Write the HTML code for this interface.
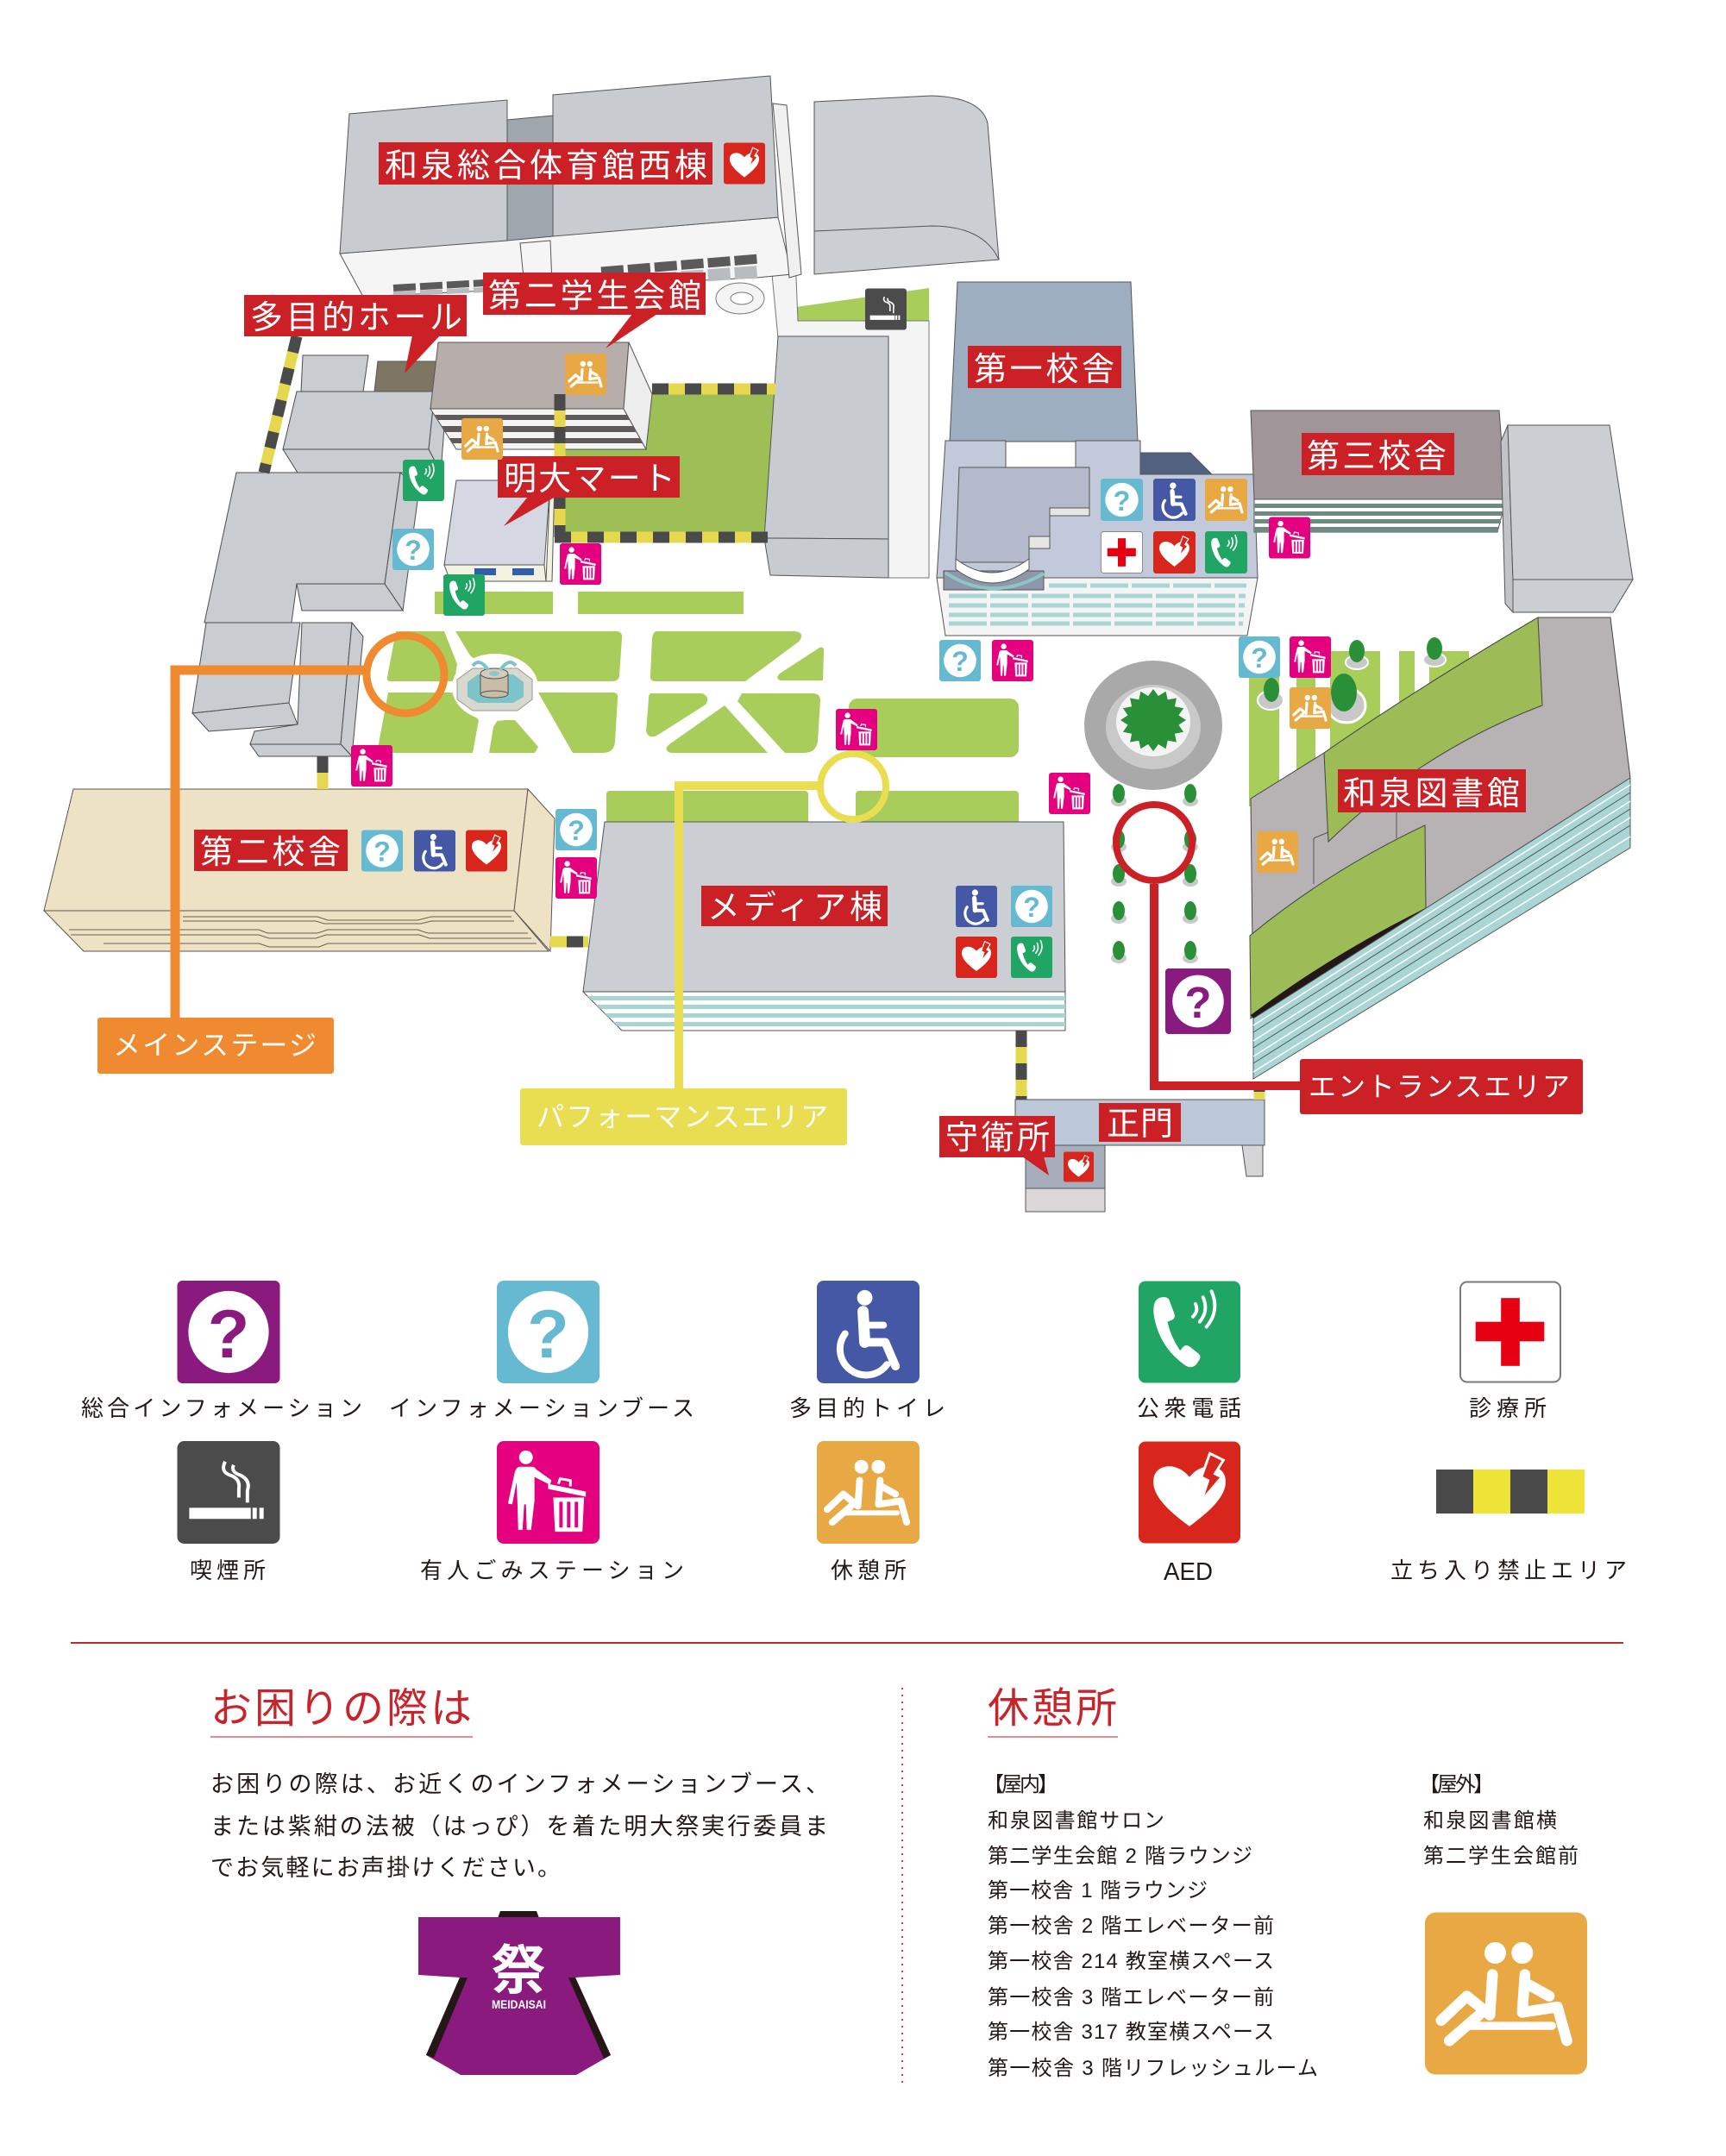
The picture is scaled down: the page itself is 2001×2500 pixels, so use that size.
<!DOCTYPE html>
<html><head><meta charset="utf-8">
<style>
html,body{margin:0;padding:0;background:#fff;}
body{width:2001px;height:2500px;overflow:hidden;}
svg{display:block;}
text{font-family:"Liberation Sans","Noto Sans CJK JP",sans-serif;}
</style></head><body>
<svg width="2001" height="2500" viewBox="0 0 2001 2500" xmlns="http://www.w3.org/2000/svg">
<defs>
 <symbol id="ib" viewBox="0 0 120 120"><rect width="120" height="120" rx="8" fill="#65b9d1"/><ellipse cx="60" cy="60" rx="47" ry="48" fill="#fff"/><text x="60" y="90" font-size="80" font-weight="700" text-anchor="middle" fill="#65b9d1">?</text></symbol>
 <symbol id="ip" viewBox="0 0 120 120"><rect width="120" height="120" rx="6" fill="#8b1a7f"/><ellipse cx="60" cy="60" rx="47" ry="48" fill="#fff"/><text x="60" y="90" font-size="80" font-weight="700" text-anchor="middle" fill="#8b1a7f">?</text></symbol>
 <symbol id="iw" viewBox="0 0 120 120"><rect width="120" height="120" rx="8" fill="#4458a5"/><circle cx="56" cy="20" r="9" fill="#fff"/><g fill="none" stroke="#fff" stroke-linecap="round" stroke-linejoin="round"><path d="M54,36 L56,72" stroke-width="13"/><path d="M56,52 L78,52" stroke-width="8"/><path d="M56,72 L80,72 L92,100" stroke-width="10"/><path d="M33,62 A30,30 0 1 0 82,98" stroke-width="8"/></g></symbol>
 <symbol id="it" viewBox="0 0 120 120"><rect width="120" height="120" rx="8" fill="#21a565"/><path d="M24,20 Q16,24 18,40 Q24,78 56,100 Q64,104 69,97 L72,92 Q74,88 70,85 L60,77 Q56,74 52,78 L49,82 Q38,66 34,48 L39,46 Q44,44 42,38 L36,22 Q33,17 24,20 Z" fill="#fff"/><g fill="none" stroke="#fff" stroke-width="4" stroke-linecap="round"><path d="M64,42 Q71,35 67,27"/><path d="M72,48 Q83,35 76,19"/><path d="M80,54 Q96,35 86,12"/></g></symbol>
 <symbol id="ic" viewBox="0 0 120 120"><rect x="1" y="1" width="118" height="118" rx="8" fill="#fff" stroke="#777" stroke-width="2"/><rect x="49" y="20" width="22" height="80" fill="#e60012"/><rect x="19" y="48" width="81" height="23" fill="#e60012"/></symbol>
 <symbol id="is" viewBox="0 0 120 120"><rect width="120" height="120" rx="8" fill="#4b4b4b"/><rect x="14" y="78" width="72" height="13" fill="#fff"/><rect x="88" y="78" width="5" height="13" fill="#fff"/><rect x="96" y="78" width="5" height="13" fill="#fff"/><g fill="none" stroke="#fff" stroke-width="4"><path d="M56,24 Q50,36 62,40 Q74,44 72,56 L72,66"/><path d="M66,28 Q62,36 74,40 Q86,46 82,58 L82,72"/></g></symbol>
 <symbol id="ig" viewBox="0 0 120 120"><rect width="120" height="120" rx="8" fill="#e4007f"/><circle cx="34" cy="19" r="8" fill="#fff"/><path d="M27,30 L41,30 Q44,30 46,33 L64,46 L62,51 L44,42 L44,70 L40,104 L35,104 L34,74 L32,74 L30,104 L25,104 L24,70 L23,48 L18,74 L13,73 L21,36 Q23,30 27,30 Z" fill="#fff"/><path d="M60,50 L104,59 L104,65 L60,56 Z" fill="#fff"/><path d="M72,50 L74,44 L86,46 L86,53" fill="none" stroke="#fff" stroke-width="3"/><path d="M66,66 L102,66 L100,106 L68,106 Z" fill="#fff"/><rect x="73" y="71" width="4" height="30" fill="#e4007f"/><rect x="82" y="71" width="4" height="30" fill="#e4007f"/><rect x="91" y="71" width="4" height="30" fill="#e4007f"/></symbol>
 <symbol id="ir" viewBox="0 0 120 120"><rect width="120" height="120" rx="8" fill="#e8a843"/><circle cx="52" cy="30" r="8" fill="#fff"/><circle cx="72" cy="30" r="8" fill="#fff"/><g fill="none" stroke="#fff" stroke-width="8" stroke-linecap="round" stroke-linejoin="round"><path d="M50,46 L48,76 L31,62 L12,80"/><path d="M40,76 L18,95"/><path d="M74,46 L72,74 L98,70 L105,95"/><path d="M74,52 L92,62"/><path d="M33,84 L94,84" stroke-width="6"/></g></symbol>
 <symbol id="ia" viewBox="0 0 120 120"><rect width="120" height="120" rx="8" fill="#d8261c"/><path d="M60,100 C30,78 14,60 18,42 C22,26 46,24 60,42 C74,24 98,26 102,42 C106,60 90,78 60,100 Z" fill="#fff"/><polygon points="84,14 100,22 90,38 98,42 74,70 82,46 74,42" fill="#d8261c" stroke="#fff" stroke-width="3"/></symbol>
</defs>

<!-- ===== MAP ===== -->
<g fill="#a8cd5a">
 <rect x="504" y="686" width="137" height="26"/>
 <rect x="670" y="686" width="192" height="26"/>
 <path d="M459,732 L515,732 L530,770 L527,790 L452,790 Q448,790 449,785 Z"/>
 <path d="M528,732 L714,732 Q722,732 721,740 L718,784 Q717,790 710,790 L580,790 L545,760 Z"/>
 <path d="M762,732 L922,732 Q934,734 926,744 L864,790 L760,790 Q753,790 754,783 L756,740 Q757,732 762,732 Z"/>
 <path d="M950,751 Q956,749 955,756 L954,789 L905,789 Q898,787 904,781 Z"/>
 <path d="M450,803 L525,803 L555,835 L548,873 L437,873 Z"/>
 <path d="M577,835 L597,835 L624,866 L620,873 L567,873 L572,843 Z"/>
 <path d="M624,803 L711,803 Q717,803 716,810 L713,860 Q712,873 699,873 L664,873 Z"/>
 <path d="M755,804 L814,804 Q824,808 818,817 L763,852 Q752,858 749,848 L752,810 Q752,804 755,804 Z"/>
 <path d="M840,818 L890,873 L778,873 Q768,870 776,863 Z"/>
 <path d="M860,804 L942,804 Q951,804 951,812 L948,860 Q946,873 932,873 L910,873 L855,813 Z"/>
 <rect x="984" y="810" width="197" height="68" rx="10"/>
 <rect x="703" y="917" width="234" height="40" rx="4"/>
 <rect x="992" y="917" width="189" height="40" rx="4"/>
 <rect x="1448" y="755" width="35" height="180"/>
 <rect x="1503" y="755" width="22" height="150"/>
 <rect x="1542" y="755" width="58" height="130"/>
 <rect x="1622" y="755" width="18" height="80"/>
 <rect x="1657" y="755" width="46" height="40"/>
</g>
<polygon points="650,457 899,457 886,617 650,617" fill="#9dbf55"/>
<polygon points="923,356 1077,334 1077,372 925,372" fill="#a8cd5a"/>

<g>
 <ellipse cx="1573" cy="768" rx="13" ry="8" fill="#c8c8c8" stroke="#fff" stroke-width="2"/><ellipse cx="1573" cy="755" rx="9" ry="13" fill="#2a9038"/>
 <ellipse cx="1663" cy="765" rx="13" ry="8" fill="#c8c8c8" stroke="#fff" stroke-width="2"/><ellipse cx="1663" cy="752" rx="9" ry="13" fill="#2a9038"/>
 <ellipse cx="1473" cy="812" rx="15" ry="11" fill="#c8c8c8" stroke="#fff" stroke-width="2"/><ellipse cx="1474" cy="800" rx="9" ry="14" fill="#2a9038"/>
 <ellipse cx="1561" cy="818" rx="22" ry="20" fill="#c8c8c8" stroke="#fff" stroke-width="3"/><ellipse cx="1558" cy="803" rx="15" ry="22" fill="#2a9038"/>
</g>

<path d="M893,297 L922,297 L925,372 L1077,372 L1077,670 L1030,670 L1030,392 L902,392 Z" fill="#f4f4f4" stroke="#777" stroke-width="1"/>
<ellipse cx="858" cy="346" rx="28" ry="18" fill="#f4f4f4" stroke="#777" stroke-width="1"/>
<ellipse cx="860" cy="346" rx="13" ry="7" fill="#fff" stroke="#777" stroke-width="1"/>

<g stroke="#555" stroke-width="1">
 <polygon points="394,294 902,252 918,318 877,322 421,344" fill="#f5f5f5"/>
 <polygon points="896,120 912,122 929,318 915,322" fill="#f0f0f0"/>
 <polygon points="405,132 588,116 588,279 394,294" fill="#c8ccd1"/>
 <polygon points="588,139 641,134 641,274 588,279" fill="#9ea6ae"/>
 <polygon points="641,110 893,88 902,252 641,274" fill="#c8ccd1"/>
 <polygon points="603,282 638,279 640,330 608,332" fill="#f5f5f5"/>
</g>
<g stroke-dasharray="26 5">
 <line x1="697" y1="315" x2="880" y2="300" stroke="#5a5a5a" stroke-width="11"/>
 <line x1="697" y1="328" x2="880" y2="315" stroke="#b9bcbe" stroke-width="14"/>
 <line x1="456" y1="334" x2="561" y2="328" stroke="#5a5a5a" stroke-width="8"/>
 <line x1="456" y1="341" x2="561" y2="336" stroke="#b9bcbe" stroke-width="6"/>
</g>
<path d="M944,118 L1080,111 Q1138,113 1145,143 L1158,301 L944,318 Z" fill="#cbcfd4" stroke="#555" stroke-width="1"/>
<path d="M944,268 L1080,262 Q1140,262 1158,301" fill="none" stroke="#555" stroke-width="1"/>

<g fill="#c9cdd2" stroke="#4d4d4d" stroke-width="1">
 <polygon points="351,412 427,412 421,454 349,454"/>
 <polygon points="344,454 504,454 497,521 328,521"/>
 <polygon points="504,454 517,470 511,548 497,521"/>
 <polygon points="328,521 497,521 511,548 345,548"/>
 <polygon points="274,548 464,548 446,677 344,677 338,722 237,722"/>
 <polygon points="464,548 486,566 467,708 446,677"/>
 <polygon points="344,677 446,677 467,708 350,708"/>
 <polygon points="239,722 348,722 335,815 223,827"/>
 <polygon points="223,827 335,815 345,840 242,848"/>
 <polygon points="350,722 408,722 395,863 290,863 295,848 345,840"/>
 <polygon points="408,722 421,738 408,877 395,863"/>
 <polygon points="290,863 395,863 408,877 300,877"/>
</g>
<polygon points="438,419 507,419 507,454 434,454" fill="#7e7562" stroke="#555" stroke-width="1"/>
<g stroke="#555" stroke-width="1">
 <polygon points="508,397 729,397 723,474 499,474" fill="#b7adab"/>
 <polygon points="499,474 723,474 749,521 529,521" fill="#f4f4f4"/>
 <polygon points="729,397 756,457 749,521 723,474" fill="#ededed"/>
</g>
<g fill="#615a5b">
 <polygon points="504,481 727,481 730,487 508,487"/>
 <polygon points="512,494 734,494 737,501 516,501"/>
 <polygon points="521,508 742,508 745,514 525,514"/>
</g>
<g stroke="#555" stroke-width="1">
 <polygon points="529,557 638,557 631,655 515,655" fill="#d5d7e2"/>
 <polygon points="515,655 631,655 633,674 522,674" fill="#f3f1df"/>
 <polygon points="638,557 643,557 640,674 633,674" fill="#f3f1df"/>
</g>
<rect x="550" y="659" width="25" height="8" fill="#2f5fad"/>
<rect x="594" y="659" width="25" height="8" fill="#2f5fad"/>

<g fill="#c8ccd1" stroke="#555" stroke-width="1">
 <polygon points="902,390 1030,390 1030,625 886,624"/>
 <polygon points="886,624 1030,625 1030,670 893,667"/>
</g>

<g stroke="#555" stroke-width="1">
 <polygon points="1110,327 1311,327 1319,512 1101,512" fill="#9caec0"/>
 <polygon points="1096,511 1166,511 1166,542 1247,542 1247,511 1322,511 1322,550 1454,550 1458,670 1086,670" fill="#c1c9da"/>
 <polygon points="1322,525 1380,525 1405,550 1322,550" fill="#536181"/>
 <polygon points="1112,542 1263,542 1263,589 1217,589 1217,622 1193,622 1193,652 1108,652" fill="#b4b9cc"/>
 <polygon points="1217,589 1263,589 1263,598 1217,598" fill="#e6e6e2"/>
 <polygon points="1193,622 1217,622 1217,636 1193,636" fill="#e6e6e2"/>
 <polygon points="1086,670 1458,670 1446,737 1096,737" fill="#f4f4f4"/>
 <polygon points="1094,662 1210,662 1210,684 1094,684" fill="#8e96aa"/>
 <path d="M1108,648 Q1150,680 1193,648 L1193,660 Q1150,692 1108,660 Z" fill="#fff"/>
</g>
<path d="M1096,664 Q1150,700 1210,665" fill="none" stroke="#8cc6c4" stroke-width="4"/>
<g stroke="#a9d6d4" stroke-width="5" stroke-dasharray="44 4">
 <line x1="1216" y1="679" x2="1445" y2="679"/>
 <line x1="1100" y1="691" x2="1444" y2="691"/>
 <line x1="1100" y1="702" x2="1443" y2="702"/>
 <line x1="1100" y1="713" x2="1442" y2="713"/>
 <line x1="1100" y1="723" x2="1441" y2="723"/>
</g>

<polygon points="1450,476 1738,476 1746,579 1454,579" fill="#a09699" stroke="#555" stroke-width="1"/>
<polygon points="1454,579 1746,579 1736,617 1454,617" fill="#fff" stroke="#555" stroke-width="1"/>
<g fill="#6e8b7f">
 <rect x="1454" y="584" width="290" height="5"/>
 <rect x="1454" y="593" width="288" height="5"/>
 <rect x="1454" y="602" width="286" height="5"/>
 <rect x="1454" y="611" width="283" height="6"/>
</g>
<g fill="#cbcfd4" stroke="#555" stroke-width="1">
 <polygon points="1740,512 1748,493 1754,672 1754,710 1745,700" fill="#c0c4c9"/>
 <polygon points="1748,493 1866,493 1893,672 1754,672"/>
 <polygon points="1754,672 1893,672 1870,710 1754,710"/>
</g>

<path d="M1450,926 L1535,873 Q1640,800 1783,716 L1867,716 L1890,902 L1453,1181 Z" fill="#b7b3b4" stroke="#444" stroke-width="1"/>
<path d="M1535,873 Q1640,800 1783,716 L1788,818 Q1650,870 1540,976 Z" fill="#9dbb57" stroke="#444" stroke-width="1"/>
<path d="M1449,1085 Q1540,1010 1652,957 L1653,1053 Q1545,1110 1450,1181 Z" fill="#9dbb57" stroke="#444" stroke-width="1"/>
<path d="M1453,1181 Q1545,1122 1650,1055 L1653,1053 Q1545,1106 1450,1177 Z" fill="#231815"/>
<g stroke="#555" stroke-width="1" fill="none"><path d="M1523,972 L1523,1025"/><path d="M1523,972 L1540,965"/><path d="M1619,942 L1619,972"/></g>
<polygon points="1453,1181 1890,902 1890,983 1453,1251" fill="#a9d6d4" stroke="#555" stroke-width="1"/>
<g fill="none">
 <line x1="1453" y1="1189" x2="1890" y2="910" stroke="#fff" stroke-width="1.5"/>
 <line x1="1453" y1="1197" x2="1890" y2="919" stroke="#555" stroke-width="1"/>
 <line x1="1453" y1="1207" x2="1890" y2="929" stroke="#fff" stroke-width="1.5"/>
 <line x1="1453" y1="1215" x2="1890" y2="938" stroke="#555" stroke-width="1"/>
 <line x1="1453" y1="1225" x2="1890" y2="948" stroke="#fff" stroke-width="1.5"/>
 <line x1="1453" y1="1233" x2="1890" y2="957" stroke="#555" stroke-width="1"/>
 <line x1="1453" y1="1243" x2="1890" y2="970" stroke="#fff" stroke-width="1.5"/>
</g>

<ellipse cx="574" cy="797" rx="50" ry="39" fill="#fff"/>
<polygon points="548,775 600,775 617,788 617,811 600,824 548,824 530,811 530,788" fill="#d9d8cf" stroke="#999" stroke-width="1"/>
<polygon points="554,782 595,782 607,791 607,808 595,815 554,815 542,808 542,791" fill="#7cc3ca"/>
<rect x="557" y="781" width="32" height="24" fill="#c9bda7"/>
<ellipse cx="573" cy="805" rx="16" ry="4" fill="#c9bda7" stroke="#555" stroke-width="1"/>
<line x1="557" y1="781" x2="557" y2="805" stroke="#555"/><line x1="589" y1="781" x2="589" y2="805" stroke="#555"/>
<ellipse cx="573" cy="781" rx="16" ry="6" fill="#d6ccb8" stroke="#555" stroke-width="1"/>
<ellipse cx="573" cy="781" rx="6" ry="3" fill="#8cc8d0"/>
<g fill="none" stroke="#7cc3ca" stroke-width="4"><path d="M566,777 Q556,762 548,772"/><path d="M580,777 Q590,762 598,772"/></g>

<g fill="#ede2c4" stroke="#555" stroke-width="1">
 <polygon points="85,915 612,915 596,1056 51,1056"/>
 <polygon points="612,915 643,949 638,1103 596,1056"/>
 <polygon points="51,1056 596,1056 636,1103 97,1103"/>
</g>
<g fill="none" stroke="#6b5f4f" stroke-width="1">
 <path d="M212,1063 L368,1063 L380,1067 L484,1067 L500,1063 L593,1063"/>
 <path d="M212,1068 L366,1068 L376,1071 L488,1071 L500,1068 L596,1068"/>
 <path d="M80,1078 L300,1078 L310,1082 L368,1082 L380,1078 L484,1078 L496,1082 L612,1082"/>
 <path d="M82,1084 L300,1084 L312,1088 L366,1088 L378,1084 L486,1084 L498,1088 L616,1088"/>
 <path d="M120,1094 L300,1094 L312,1098 L370,1098 L380,1094 L622,1094"/>
</g>

<polygon points="701,953 1233,953 1235,1150 676,1150" fill="#cbced3" stroke="#555" stroke-width="1"/>
<polygon points="676,1150 1235,1150 1235,1195 721,1195" fill="#fff" stroke="#555" stroke-width="1"/>
<g fill="#a6d5d2">
 <polygon points="681,1155 1235,1155 1235,1160 686,1160"/>
 <polygon points="691,1165 1235,1165 1235,1170 696,1170"/>
 <polygon points="701,1175 1235,1175 1235,1180 706,1180"/>
 <polygon points="711,1185 1235,1185 1235,1190 716,1190"/>
</g>

<ellipse cx="1337" cy="841" rx="80" ry="75" fill="#a9a9a9"/>
<ellipse cx="1337" cy="843" rx="55" ry="49" fill="#c9c9c9"/>
<ellipse cx="1337" cy="837" rx="43" ry="40" fill="#f4f4f4"/>
<polygon fill="#2a9038" points="1375,835 1366.4,840.6 1372.1,848.8 1361.9,850.8 1363.9,860.5 1353.7,858.7 1351.6,868.3 1342.9,863 1337,871 1331.1,863 1322.4,868.3 1320.3,858.7 1310.1,860.5 1312.1,850.8 1301.9,848.8 1307.6,840.6 1299,835 1307.6,829.4 1301.9,821.2 1312.1,819.2 1310.1,809.5 1320.3,811.3 1322.4,801.7 1331.1,807 1337,799 1342.9,807 1351.6,801.7 1353.7,811.3 1363.9,809.5 1361.9,819.2 1372.1,821.2 1366.4,829.4"/>

<g>
 <ellipse cx="1297" cy="929" rx="9" ry="6" fill="#c9c9c9"/><ellipse cx="1297" cy="920" rx="7" ry="11" fill="#2a9038"/>
 <ellipse cx="1380" cy="929" rx="9" ry="6" fill="#c9c9c9"/><ellipse cx="1380" cy="920" rx="7" ry="11" fill="#2a9038"/>
 <ellipse cx="1297" cy="982" rx="9" ry="6" fill="#c9c9c9"/><ellipse cx="1297" cy="973" rx="7" ry="11" fill="#2a9038"/>
 <ellipse cx="1380" cy="982" rx="9" ry="6" fill="#c9c9c9"/><ellipse cx="1380" cy="973" rx="7" ry="11" fill="#2a9038"/>
 <ellipse cx="1297" cy="1022" rx="9" ry="6" fill="#c9c9c9"/><ellipse cx="1297" cy="1013" rx="7" ry="11" fill="#2a9038"/>
 <ellipse cx="1380" cy="1022" rx="9" ry="6" fill="#c9c9c9"/><ellipse cx="1380" cy="1013" rx="7" ry="11" fill="#2a9038"/>
 <ellipse cx="1297" cy="1065" rx="9" ry="6" fill="#c9c9c9"/><ellipse cx="1297" cy="1056" rx="7" ry="11" fill="#2a9038"/>
 <ellipse cx="1380" cy="1065" rx="9" ry="6" fill="#c9c9c9"/><ellipse cx="1380" cy="1056" rx="7" ry="11" fill="#2a9038"/>
 <ellipse cx="1297" cy="1111" rx="9" ry="6" fill="#c9c9c9"/><ellipse cx="1297" cy="1102" rx="7" ry="11" fill="#2a9038"/>
 <ellipse cx="1380" cy="1111" rx="9" ry="6" fill="#c9c9c9"/><ellipse cx="1380" cy="1102" rx="7" ry="11" fill="#2a9038"/>
</g>

<g stroke="#555" stroke-width="1">
 <polygon points="1440,1328 1464,1328 1464,1364 1445,1364" fill="#d5d5d5"/>
 <rect x="1177" y="1275" width="289" height="53" fill="#bcc7d8"/>
 <rect x="1189" y="1328" width="92" height="50" fill="#a7aebb"/>
 <rect x="1189" y="1378" width="92" height="27" fill="#dcd8da"/>
</g>

<g stroke-width="13" fill="none">
 <g stroke="#e6d84e">
  <line x1="344" y1="390" x2="306" y2="548"/>
  <line x1="756" y1="451" x2="899" y2="451"/>
  <line x1="649" y1="457" x2="649" y2="623"/>
  <line x1="643" y1="623" x2="890" y2="623"/>
  <line x1="374" y1="877" x2="374" y2="915"/>
  <line x1="638" y1="1092" x2="682" y2="1092"/>
  <line x1="1184" y1="1195" x2="1184" y2="1275"/>
  <line x1="1460" y1="1255" x2="1460" y2="1275"/>
 </g>
 <g stroke="#4a4a4a" stroke-dasharray="19 19">
  <line x1="344" y1="390" x2="306" y2="548"/>
  <line x1="756" y1="451" x2="899" y2="451"/>
  <line x1="649" y1="457" x2="649" y2="623"/>
  <line x1="643" y1="623" x2="890" y2="623"/>
  <line x1="374" y1="877" x2="374" y2="915"/>
  <line x1="657" y1="1092" x2="682" y2="1092"/>
  <line x1="1184" y1="1195" x2="1184" y2="1275"/>
  <line x1="1460" y1="1255" x2="1460" y2="1266"/>
 </g>
</g>

<path d="M203,1182 L203,777 L426,777" fill="none" stroke="#f08a30" stroke-width="11"/>
<circle cx="470" cy="782" r="45" fill="none" stroke="#f08a30" stroke-width="9"/>
<path d="M787,1264 L787,911 L952,911" fill="none" stroke="#e9dd52" stroke-width="10"/>
<circle cx="989" cy="912" r="38" fill="none" stroke="#e9dd52" stroke-width="8"/>
<path d="M1338,1025 L1338,1259 L1510,1259" fill="none" stroke="#cb2026" stroke-width="10"/>
<circle cx="1338" cy="977" r="44" fill="none" stroke="#cb2026" stroke-width="8"/>

<g fill="#cb2026">
 <rect x="439" y="165" width="387" height="49"/>
 <rect x="560" y="316" width="258" height="49"/>
 <polygon points="733,364 762,364 702,404"/>
 <rect x="283" y="342" width="258" height="48"/>
 <polygon points="478,389 510,389 469,433"/>
 <rect x="577" y="529" width="211" height="48"/>
 <polygon points="612,576 644,576 584,610"/>
 <rect x="1122" y="401" width="178" height="49"/>
 <rect x="1509" y="502" width="177" height="49"/>
 <rect x="1551" y="892" width="218" height="50"/>
 <rect x="225" y="962" width="178" height="48"/>
 <rect x="813" y="1027" width="216" height="47"/>
 <rect x="1274" y="1279" width="95" height="45"/>
 <rect x="1089" y="1294" width="134" height="48"/>
 <polygon points="1185,1341 1210,1341 1216,1363"/>
 <rect x="1507" y="1228" width="328" height="64" rx="3"/>
</g>
<rect x="113" y="1180" width="274" height="65" rx="3" fill="#f08a30"/>
<rect x="603" y="1262" width="379" height="66" rx="3" fill="#e9dd52"/>
<g fill="#fff" font-size="38">
 <text x="446" y="205" textLength="374" lengthAdjust="spacing">和泉総合体育館西棟</text>
 <text x="566" y="356" textLength="247" lengthAdjust="spacing">第二学生会館</text>
 <text x="290" y="381" textLength="246" lengthAdjust="spacing">多目的ホール</text>
 <text x="584" y="568" textLength="199" lengthAdjust="spacing">明大マート</text>
 <text x="1129" y="441" textLength="163" lengthAdjust="spacing">第一校舎</text>
 <text x="1515" y="542" textLength="162" lengthAdjust="spacing">第三校舎</text>
 <text x="1557" y="933" textLength="205" lengthAdjust="spacing">和泉図書館</text>
 <text x="232" y="1001" textLength="163" lengthAdjust="spacing">第二校舎</text>
 <text x="820" y="1065" textLength="203" lengthAdjust="spacing">メディア棟</text>
 <text x="1283" y="1316" textLength="77" lengthAdjust="spacing">正門</text>
 <text x="1096" y="1332" textLength="121" lengthAdjust="spacing">守衛所</text>
</g>
<g fill="#fff" font-size="32">
 <text x="131" y="1223" textLength="236" lengthAdjust="spacing">メインステージ</text>
 <text x="622" y="1306" textLength="338" lengthAdjust="spacing">パフォーマンスエリア</text>
 <text x="1517" y="1271" textLength="303" lengthAdjust="spacing">エントランスエリア</text>
</g>

<use href="#ia" x="839" y="165" width="48" height="49"/>
<use href="#is" x="1003" y="334" width="48" height="49"/>
<use href="#ir" x="655" y="410" width="48" height="48"/>
<use href="#ir" x="535" y="485" width="48" height="48"/>
<use href="#it" x="467" y="533" width="48" height="48"/>
<use href="#ib" x="455" y="613" width="48" height="48"/>
<use href="#it" x="514" y="666" width="48" height="48"/>
<use href="#ig" x="649" y="630" width="48" height="48"/>
<use href="#ib" x="1276" y="555" width="49" height="49"/>
<use href="#iw" x="1337" y="555" width="49" height="49"/>
<use href="#ir" x="1397" y="555" width="49" height="49"/>
<use href="#ic" x="1276" y="616" width="49" height="49"/>
<use href="#ia" x="1337" y="616" width="49" height="49"/>
<use href="#it" x="1397" y="616" width="49" height="49"/>
<use href="#ig" x="1471" y="599" width="48" height="49"/>
<use href="#ib" x="1089" y="742" width="48" height="48"/>
<use href="#ig" x="1150" y="742" width="48" height="48"/>
<use href="#ib" x="1436" y="738" width="48" height="48"/>
<use href="#ig" x="1495" y="738" width="48" height="48"/>
<use href="#ir" x="1495" y="797" width="48" height="48"/>
<use href="#ig" x="969" y="822" width="48" height="48"/>
<use href="#ig" x="407" y="864" width="48" height="48"/>
<use href="#ig" x="1216" y="896" width="48" height="48"/>
<use href="#ir" x="1457" y="964" width="48" height="48"/>
<use href="#ib" x="419" y="962" width="48" height="49"/>
<use href="#iw" x="480" y="962" width="48" height="49"/>
<use href="#ia" x="540" y="962" width="48" height="49"/>
<use href="#ib" x="644" y="938" width="48" height="48"/>
<use href="#ig" x="644" y="994" width="48" height="48"/>
<use href="#iw" x="1108" y="1027" width="48" height="48"/>
<use href="#ib" x="1172" y="1027" width="48" height="48"/>
<use href="#ia" x="1108" y="1086" width="48" height="48"/>
<use href="#it" x="1172" y="1086" width="48" height="48"/>
<use href="#ip" x="1351" y="1123" width="76" height="76"/>
<use href="#ia" x="1233" y="1335" width="35" height="36"/>

<!-- ===== LEGEND ===== -->
<use href="#ip" x="205" y="1485" width="120" height="119"/>
<use href="#ib" x="576" y="1485" width="119" height="119"/>
<use href="#iw" x="947" y="1485" width="119" height="119"/>
<use href="#it" x="1320" y="1485" width="118" height="119"/>
<use href="#ic" x="1692" y="1485" width="118" height="119"/>
<use href="#is" x="205" y="1671" width="120" height="119"/>
<use href="#ig" x="576" y="1671" width="119" height="119"/>
<use href="#ir" x="947" y="1671" width="119" height="119"/>
<use href="#ia" x="1320" y="1671" width="118" height="119"/>
<rect x="1665" y="1704" width="43" height="51" fill="#4a4a4a"/>
<rect x="1708" y="1704" width="43" height="51" fill="#eee437"/>
<rect x="1751" y="1704" width="43" height="51" fill="#4a4a4a"/>
<rect x="1794" y="1704" width="43" height="51" fill="#eee437"/>
<g fill="#231815" font-size="26">
 <text x="94" y="1642" textLength="326" lengthAdjust="spacing">総合インフォメーション</text>
 <text x="451" y="1642" textLength="354" lengthAdjust="spacing">インフォメーションブース</text>
 <text x="915" y="1642" textLength="181" lengthAdjust="spacing">多目的トイレ</text>
 <text x="1318" y="1642" textLength="121" lengthAdjust="spacing">公衆電話</text>
 <text x="1703" y="1642" textLength="90" lengthAdjust="spacing">診療所</text>
 <text x="220" y="1830" textLength="88" lengthAdjust="spacing">喫煙所</text>
 <text x="487" y="1830" textLength="306" lengthAdjust="spacing">有人ごみステーション</text>
 <text x="963" y="1830" textLength="88" lengthAdjust="spacing">休憩所</text>
 <text x="1349" y="1832" font-size="29" textLength="57" lengthAdjust="spacingAndGlyphs">AED</text>
 <text x="1612" y="1830" textLength="274" lengthAdjust="spacing">立ち入り禁止エリア</text>
</g>

<line x1="82" y1="1905" x2="1882" y2="1905" stroke="#c0282d" stroke-width="2"/>

<!-- ===== BOTTOM ===== -->
<g fill="#c9242b" font-size="48">
 <text x="244" y="1997" textLength="303" lengthAdjust="spacing">お困りの際は</text>
 <text x="1145" y="1997" textLength="150" lengthAdjust="spacing">休憩所</text>
</g>
<rect x="244" y="2013" width="304" height="2" fill="#e58a8e"/>
<rect x="1145" y="2013" width="151" height="2" fill="#e58a8e"/>
<line x1="1046" y1="1957" x2="1046" y2="2420" stroke="#d8333a" stroke-width="2" stroke-dasharray="2 6"/>

<g fill="#231815" font-size="27">
 <text x="244" y="2078" textLength="717" lengthAdjust="spacing">お困りの際は、お近くのインフォメーションブース、</text>
 <text x="244" y="2127" textLength="716" lengthAdjust="spacing">または紫紺の法被（はっぴ）を着た明大祭実行委員ま</text>
 <text x="244" y="2175" textLength="406" lengthAdjust="spacing">でお気軽にお声掛けください。</text>
</g>

<polygon points="580,2216 622,2216 625,2224 577,2224" fill="#231815"/>
<polygon points="485,2223 719,2223 719,2290 667,2293 708,2383 668,2406 534,2406 494,2383 533,2293 485,2290" fill="#8a1a7e"/>
<polygon points="533,2293 542,2293 503,2386 494,2383" fill="#231815"/>
<polygon points="659,2293 667,2293 708,2383 700,2387" fill="#231815"/>
<text x="601" y="2306" font-size="62" font-weight="700" fill="#fff" text-anchor="middle">祭</text>
<text x="570" y="2329" font-size="14" font-weight="700" fill="#fff" textLength="63" lengthAdjust="spacingAndGlyphs">MEIDAISAI</text>

<g fill="#231815" font-size="24">
 <text x="1140" y="2077" letter-spacing="-3">【屋内】</text>
 <text x="1145" y="2119" textLength="205" lengthAdjust="spacing">和泉図書館サロン</text>
 <text x="1145" y="2160" textLength="307" lengthAdjust="spacing">第二学生会館 2 階ラウンジ</text>
 <text x="1145" y="2200" textLength="255" lengthAdjust="spacing">第一校舎 1 階ラウンジ</text>
 <text x="1145" y="2241" textLength="332" lengthAdjust="spacing">第一校舎 2 階エレベーター前</text>
 <text x="1145" y="2282" textLength="332" lengthAdjust="spacing">第一校舎 214 教室横スペース</text>
 <text x="1145" y="2324" textLength="332" lengthAdjust="spacing">第一校舎 3 階エレベーター前</text>
 <text x="1145" y="2364" textLength="332" lengthAdjust="spacing">第一校舎 317 教室横スペース</text>
 <text x="1145" y="2406" textLength="383" lengthAdjust="spacing">第一校舎 3 階リフレッシュルーム</text>
 <text x="1645" y="2077" letter-spacing="-3">【屋外】</text>
 <text x="1650" y="2119" textLength="155" lengthAdjust="spacing">和泉図書館横</text>
 <text x="1650" y="2160" textLength="180" lengthAdjust="spacing">第二学生会館前</text>
</g>
<use href="#ir" x="1652" y="2217" width="188" height="189"/>
</svg>
</body></html>
